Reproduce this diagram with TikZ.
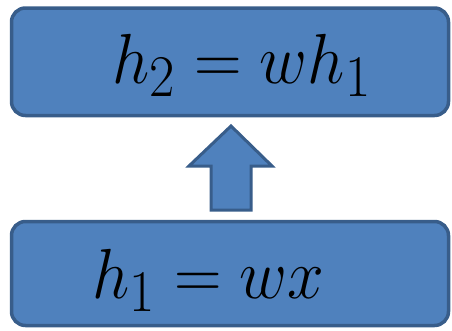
\documentclass[tikz,border=0pt]{standalone}
\usepackage{graphicx}
\begin{document}
\begin{tikzpicture}[x=1pt,y=-1pt,
  box/.style={draw=boxborder,fill=boxfill,line width=3.5pt,rounded corners=14pt},
  eq/.style={inner sep=0pt,font=\Huge},
  blockarrow/.style={draw=boxborder,fill=boxfill,line width=3pt,line join=miter}]
\definecolor{boxfill}{HTML}{4F81BD}
\definecolor{boxborder}{HTML}{385D8A}
\useasboundingbox (0,0) rectangle (452,330);
\draw[box] (11.5,8) rectangle (448.5,115.5);
\draw[box] (11.5,221.5) rectangle (448.5,325.5);
\node[eq,anchor=base west] (t2) at (112,83) {\scalebox{2.65}[2.85]{$h_2 = wh_1$}};
\node[eq,anchor=base west] (t1) at (92,298) {\scalebox{2.65}[2.85]{$h_1 = wx$}};
\coordinate (tip) at (231,126);
\draw[blockarrow] (tip) -- (272,166) -- (251,166) -- (251,210) -- (211,210) -- (211,166) -- (189,166) -- cycle;
\end{tikzpicture}
\end{document}
